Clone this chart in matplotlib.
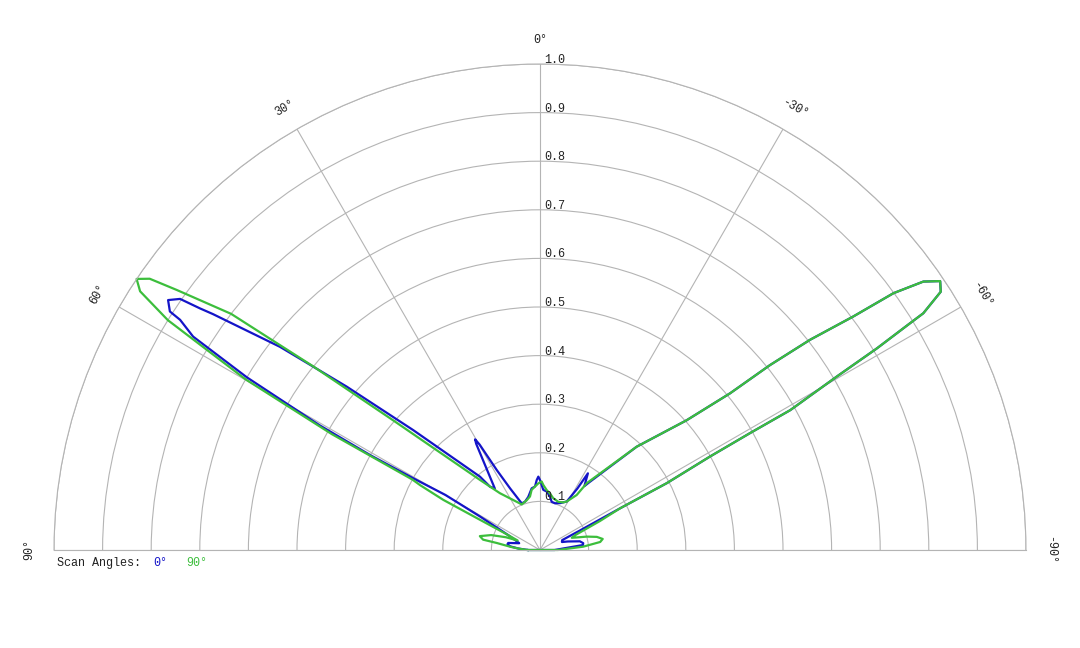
import numpy as np
import matplotlib
matplotlib.use('Agg')
import matplotlib.pyplot as plt
from matplotlib.transforms import offset_copy

plt.rcParams['font.family'] = ['Liberation Mono', 'DejaVu Sans Mono']

# scan angle 0 deg (blue): angle in degrees, normalised gain
theta_0 = [90, 86, 83, 80, 77.5, 72, 69.5, 65.5, 63, 60.8,
           59.8, 60.5, 60.8, 60.5, 59.5, 58.4, 57.4, 57.2, 56.1, 55.1,
           54.6, 54.2, 52.0, 49.8, 46.6, 39.3, 38.3, 36.3, 31.0, 30.4,
           29.8, 28.4, 25.9, 21.4, 17.3, 12.4, 7.7, 4.5, 2.7, 1.3,
           0.0, -3.1, -6.6, -10.6, -13.6, -17.8, -23.2, -28.9, -31.3, -32.0,
           -34.8, -36.0, -43.1, -48.5, -50.5, -51.2, -52.1, -53.3, -54.0, -55.0,
           -56.1, -57.2, -58.3, -58.5, -59.1, -59.7, -60.8, -60.9, -61.2, -62.2,
           -62.5, -64, -66, -70, -73, -77.7, -81, -83.4, -86, -90]
gain_0 = [0.025, 0.045, 0.062, 0.068, 0.067, 0.045, 0.051, 0.068, 0.093, 0.142,
          0.225, 0.30, 0.40, 0.52, 0.70, 0.838, 0.879, 0.906, 0.922, 0.903,
          0.858, 0.830, 0.679, 0.521, 0.359, 0.195, 0.166, 0.157, 0.255, 0.264,
          0.25, 0.187, 0.141, 0.103, 0.104, 0.112, 0.128, 0.131, 0.144, 0.151,
          0.144, 0.124, 0.121, 0.112, 0.102, 0.101, 0.105, 0.114, 0.148, 0.186,
          0.160, 0.172, 0.291, 0.403, 0.507, 0.607, 0.704, 0.804, 0.899, 0.963,
          0.992, 0.981, 0.927, 0.893, 0.808, 0.707, 0.590, 0.494, 0.399, 0.295,
          0.186, 0.09, 0.05, 0.048, 0.06, 0.084, 0.09, 0.089, 0.05, 0.03]

# scan angle 90 deg (green)
theta_90 = [90, 87, 84, 80.8, 79.7, 77, 73, 69.5, 67, 64.5,
            63.3, 62.6, 61.6, 61.1, 60.9, 59.9, 58.3, 57.1, 56.1, 55.2,
            54.4, 52.6, 51.0, 48.5, 40.6, 35.2, 21.8, 14.9, 10.6, 7.9,
            4.5, 1.5, -1.4, -2.9, -6.4, -10.0, -14.4, -20.8, -26.0, -28.9,
            -33.7, -35.0, -43.1, -48.5, -50.5, -51.2, -52.1, -53.3, -54.0, -55.0,
            -56.1, -57.2, -58.3, -58.5, -59.1, -59.7, -60.8, -60.9, -61.2, -62.2,
            -62.5, -64.2, -67, -69, -72, -74, -77, -80, -82.4, -85.6,
            -88, -90]
gain_90 = [0.025, 0.04, 0.06, 0.09, 0.119, 0.127, 0.105, 0.075, 0.05, 0.08,
           0.138, 0.224, 0.28, 0.30, 0.49, 0.70, 0.90, 0.98, 1.0, 0.978,
           0.919, 0.80, 0.60, 0.40, 0.19, 0.143, 0.101, 0.106, 0.112, 0.125,
           0.131, 0.137, 0.141, 0.134, 0.124, 0.118, 0.110, 0.106, 0.109, 0.114,
           0.136, 0.168, 0.291, 0.403, 0.507, 0.607, 0.704, 0.804, 0.899, 0.963,
           0.992, 0.981, 0.927, 0.893, 0.808, 0.707, 0.590, 0.494, 0.399, 0.295,
           0.186, 0.137, 0.08, 0.07, 0.085, 0.10, 0.12, 0.131, 0.125, 0.089,
           0.05, 0.037]

r_ticks = [0.1, 0.2, 0.3, 0.4, 0.5, 0.6, 0.7, 0.8, 0.9, 1.0]
r_labels = ['0.1', '0.2', '0.3', '0.4', '0.5', '0.6', '0.7', '0.8', '0.9', '1.0']
theta_ticks = [-90, -60, -30, 0, 30, 60, 90]
theta_labels = ['-90°', '-60°', '-30°', '0°', '30°', '60°', '90°']
scan_names = ['0°', '90°']
scan_colors = ['#1414c8', '#3cbe3c']

grey = '#b4b4b4'

fig = plt.figure(figsize=(10.8, 6.48), dpi=100)
# the half disc sits in the middle of a square box: 972 px wide, centre at (540, 550)
ax = fig.add_axes([54 / 1080, (648 - 793) / 648, 972 / 1080, 972 / 648], projection='polar')
ax.set_theta_zero_location('N')
ax.set_thetamin(-90)
ax.set_thetamax(90)
ax.set_ylim(0, 1)
ax.set_xticks(np.deg2rad(theta_ticks))
ax.set_xticklabels([])
ax.set_yticks(r_ticks)
ax.set_yticklabels([])
ax.tick_params(length=0)
ax.grid(True, color=grey, linewidth=0.8)
for sp in ax.spines.values():
    sp.set_color(grey)
    sp.set_linewidth(0.8)

# closed curves (last point joins back to the first through the centre)
for th, g, c in [(theta_0, gain_0, scan_colors[0]), (theta_90, gain_90, scan_colors[1])]:
    t = np.deg2rad(th + th[:1])
    ax.plot(t, g + g[:1], color=c, linewidth=1.6, clip_on=False)

# radial labels next to the 0 deg spoke
lab_tr = offset_copy(ax.transData, fig=fig, x=4, y=-2, units='dots')
for r, lab in zip(r_ticks, r_labels):
    ax.text(0, r, lab, transform=lab_tr, ha='left', va='bottom', fontsize=8.5, color='#222222')

# angle labels, turned along the rim
for t, lab in zip(theta_ticks, theta_labels):
    ax.text(np.deg2rad(t), 1.05, lab, rotation=t, rotation_mode='anchor',
            ha='center', va='center', fontsize=8.5, color='#222222')

# legend text
fig.text(57 / 1080, 1 - 563 / 648, 'Scan Angles:', ha='left', va='center', fontsize=8.5, color='#222222')
fig.text(153 / 1080, 1 - 563 / 648, scan_names[0], ha='left', va='center', fontsize=8.5, color=scan_colors[0])
fig.text(186 / 1080, 1 - 563 / 648, scan_names[1], ha='left', va='center', fontsize=8.5, color=scan_colors[1])

fig.savefig('out.png', dpi=100)
